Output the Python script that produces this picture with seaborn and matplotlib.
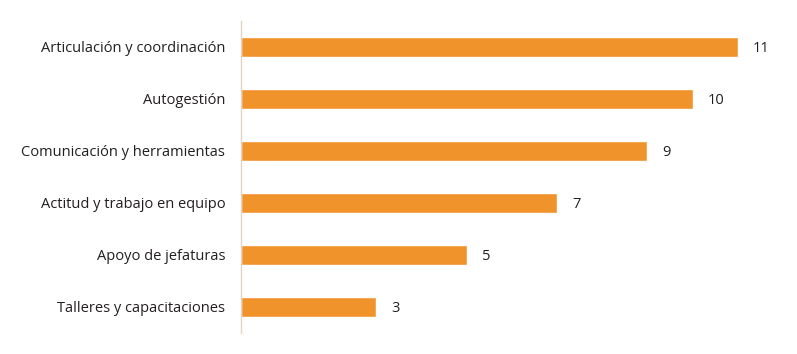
import matplotlib
matplotlib.use("Agg")
import matplotlib.pyplot as plt
import seaborn as sns
import pandas as pd

categories = ["Articulación y coordinación", "Autogestión", "Comunicación y herramientas",
              "Actitud y trabajo en equipo", "Apoyo de jefaturas", "Talleres y capacitaciones"]
values = [11, 10, 9, 7, 5, 3]

sns.set_style("white")
plt.rcParams['font.family'] = ['Open Sans', 'DejaVu Sans']

df = pd.DataFrame({"cat": categories, "val": values})

fig = plt.figure(figsize=(7.97, 3.54), dpi=100)
ax = fig.add_axes([240.5 / 797, 21 / 354, 542.4 / 797, 312 / 354])
sns.barplot(data=df, y="cat", x="val", orient="h", color="#F0932B", saturation=1,
            width=0.385, ax=ax)
ax.set_xlim(0, 12)
ax.set_ylim(5.5, -0.5)
ax.set_xlabel("")
ax.set_ylabel("")
ax.set_xticks([])
for s in ["top", "right", "bottom"]:
    ax.spines[s].set_visible(False)
ax.spines["left"].set_color("#E3D3C6")
ax.spines["left"].set_linewidth(1)
ax.tick_params(axis="y", length=0, pad=11, labelsize=10.5, labelcolor="#231F20")
for lbl in ax.get_yticklabels():
    lbl.set_verticalalignment("center_baseline")
for i, v in enumerate(values):
    ax.annotate(str(v), xy=(v, i), xytext=(11, 0), textcoords="offset points",
                va="center_baseline", ha="left", fontsize=10.5, color="#231F20")
fig.savefig("out.png", dpi=100)
